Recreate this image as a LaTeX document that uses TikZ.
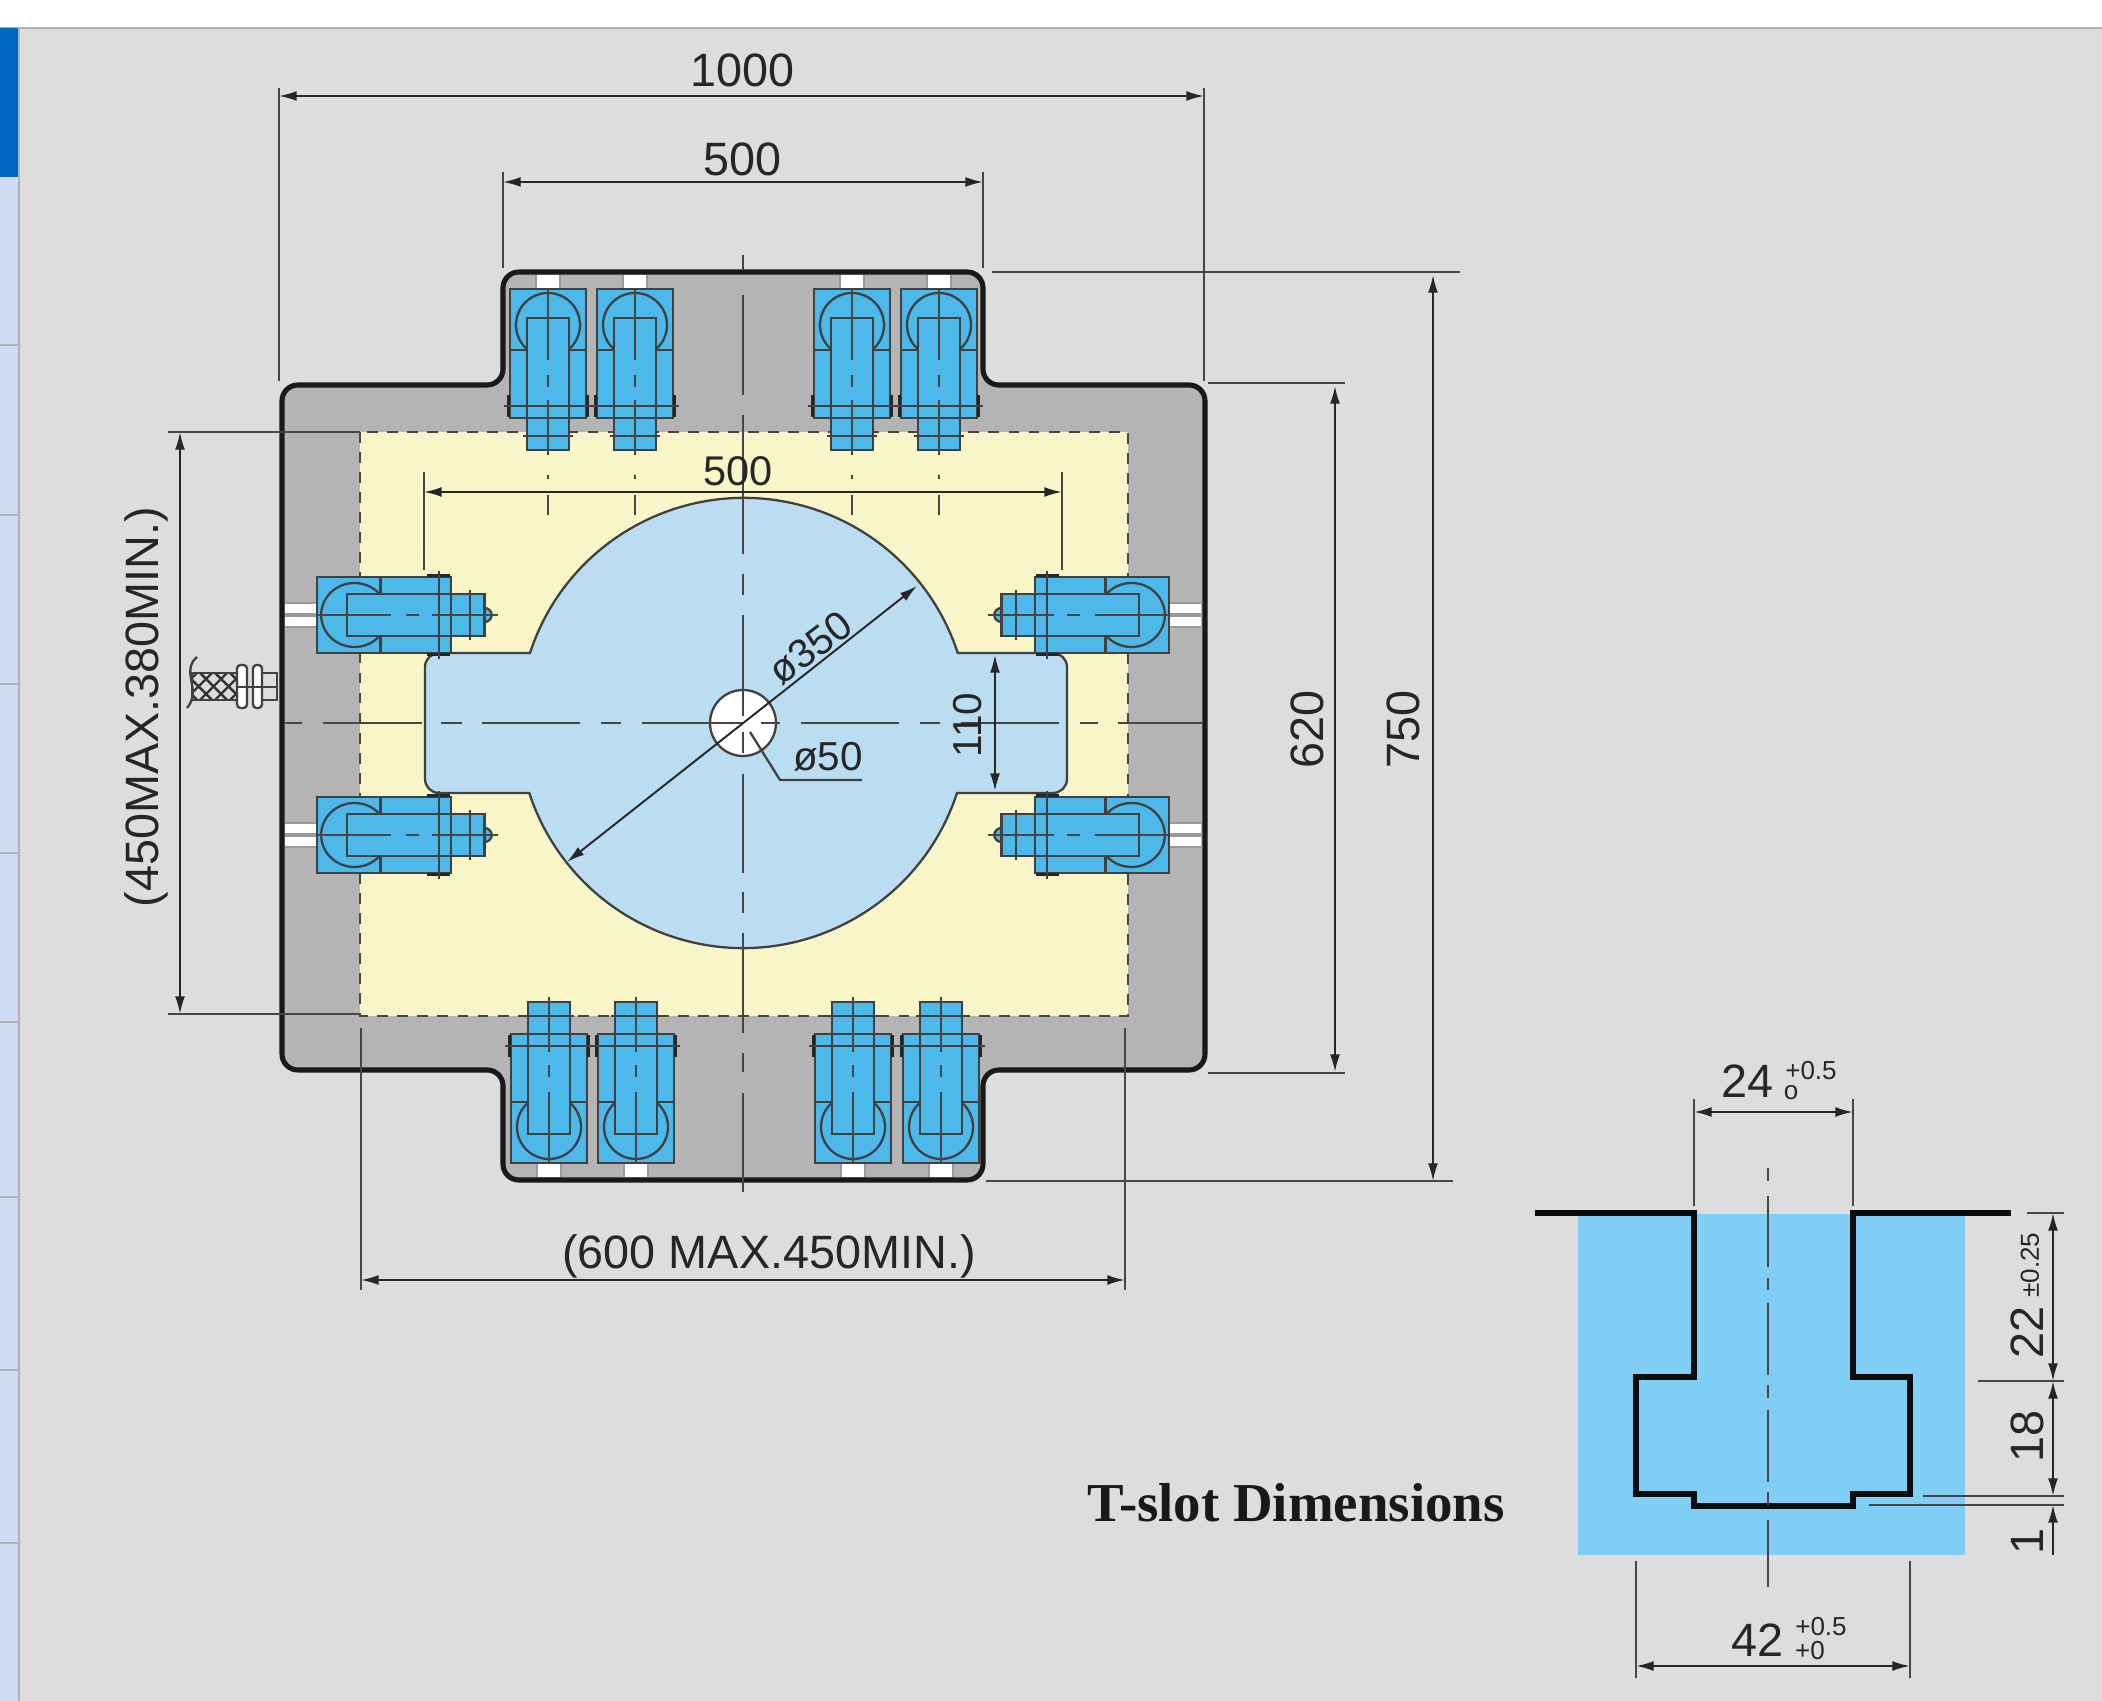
\documentclass[tikz,border=0pt]{standalone}
\usepackage{fontspec}
\setmainfont{Liberation Sans}
\newfontfamily\titlefont{Liberation Serif}
\usetikzlibrary{arrows.meta}
\definecolor{pagegray}{HTML}{DDDDDD}
\definecolor{bodygray}{HTML}{B4B4B4}
\definecolor{tableyellow}{HTML}{F8F5C9}
\definecolor{tableblue}{HTML}{BBDDF1}
\definecolor{clampblue}{HTML}{4DB9EA}
\definecolor{slotblue}{HTML}{80CEF6}
\definecolor{inkgray}{HTML}{4A4444}
\definecolor{sidedark}{HTML}{0067C0}
\definecolor{sidelight}{HTML}{CEDBF3}
\tikzset{
  dim/.style={{Latex[length=5pt,width=2.8pt]}-{Latex[length=5pt,width=2.8pt]},line width=0.55pt,color=black!85},
  dimone/.style={-{Latex[length=5pt,width=2.8pt]},line width=0.55pt,color=black!85},
  ext/.style={line width=0.65pt,draw=inkgray},
  centerline/.style={line width=0.7pt,draw=inkgray},
  thinline/.style={line width=0.65pt,draw=black!75},
  dimtext/.style={inner sep=0pt,font=\fontsize{13.3}{15}\selectfont,text=black!85},
  tol/.style={inner sep=0pt,font=\fontsize{7.4}{8}\selectfont,text=black!85},
  clampunit/.pic={
    \fill[clampblue,draw=black!75,line width=0.65pt] (-38,0) rectangle (38,129);
    \draw[thinline] (0,36) circle[radius=32];
    \draw[thinline] (-38,61) -- (38,61);
    \fill[clampblue,draw=black!75,line width=0.65pt] (-21,29) rectangle (21,161);
    \draw[line width=1.1pt,draw=black!85] (-39.5,106) -- (-39.5,128);
    \draw[line width=1.1pt,draw=black!85] (39.5,106) -- (39.5,128);
    \draw[thinline] (-38,129) -- (38,129);
    \draw[thinline] (-44,117) -- (44,117);
    \draw[thinline] (-25,147) -- (25,147);
    \draw[centerline] (0,1) -- (0,71);
    \draw[centerline] (0,86) -- (0,98);
    \draw[centerline] (0,111) -- (0,166);
  },
}
\begin{document}
\begin{tikzpicture}[x=0.01cm,y=-0.01cm]
\useasboundingbox (0,0) rectangle (2102,1701);
% page and side bar
\fill[pagegray] (0,0) rectangle (2102,1701);
\fill[white] (0,0) rectangle (2102,27);
\draw[line width=0.5pt,draw=black!30] (0,28) -- (2102,28);
\fill[sidelight] (0,28) rectangle (18,1701);
\fill[sidedark] (0,28) rectangle (18,177);
\draw[line width=0.5pt,draw=black!30] (19,28) -- (19,1701);
\foreach \y in {345,515,684,853,1022,1197,1370,1543}
  \draw[line width=0.3pt,draw=black!30] (0,\y) -- (18,\y);
% table body
\draw[fill=bodygray,line width=1.45pt,draw=black!90,rounded corners=4.5pt] (743,272) -- (983,272) -- (983,385) -- (1205,385) -- (1205,1070) -- (983,1070) -- (983,1180) -- (503,1180) -- (503,1070) -- (282,1070) -- (282,385) -- (503,385) -- (503,272) -- cycle;
\fill[tableyellow] (360,432) rectangle (1128,1016);
\draw[line width=0.7pt,draw=inkgray,dash pattern=on 3.1pt off 2.6pt] (360,432) rectangle (1128,1016);
% table centre plate
\fill[tableblue,draw=black!75,line width=0.65pt] (530,653) arc[start angle=198.1,end angle=341.9,radius=225] [rounded corners=4pt] -- (1067,653) -- (1067,793) [sharp corners] -- (957,793) arc[start angle=18.1,end angle=161.9,radius=225] [rounded corners=4pt] -- (425,793) -- (425,653) [sharp corners] -- cycle;
\draw[fill=white,thinline] (743,723) circle[radius=33];
% centre lines
\foreach \a/\b in {285/302,323/422,441/462,482/580,601/621,642/744,761/780,801/899,920/940,961/1059,1080/1098,1118/1202}
  \draw[centerline] (\a,723) -- (\b,723);
\foreach \a/\b in {255/270,295/395,415/554,574/595,615/716,732/753,774/873,892/913,933/1033,1053/1072,1093/1192}
  \draw[centerline] (743,\a) -- (743,\b);
% clamps at the top
\foreach \x in {548,635,852,939} {
  \begin{scope}[shift={(\x,289)}]
    \fill[black!40] (-13,-14) rectangle (13,0);
    \fill[white] (-11,-14) rectangle (11,0);
    \pic[transform shape] {clampunit};
  \end{scope}
  \draw[centerline] (\x,475) -- (\x,479);
  \draw[centerline] (\x,495) -- (\x,515);
}
% clamps at the bottom
\foreach \x in {549,636,853,941} {
  \begin{scope}[shift={(\x,1163)},yscale=-1]
    \fill[black!40] (-13,-14) rectangle (13,0);
    \fill[white] (-11,-14) rectangle (11,0);
    \pic[transform shape] {clampunit};
  \end{scope}
}
% clamps at the sides
\foreach \y in {615,835} {
  \begin{scope}[cm={0,-1,-1.04,0,(317,\y)}]
    \fill[black!40] (-13,-31) rectangle (13,0);
    \fill[white] (-11,-31) rectangle (-2,0);
    \fill[white] (2,-31) rectangle (11,0);
    \draw[fill=clampblue,thinline] (0,161) circle[radius=7];
    \pic[transform shape] {clampunit};
    \draw[centerline] (0,166) -- (0,174);
  \end{scope}
  \begin{scope}[cm={0,-1,1.04,0,(1169,\y)}]
    \fill[black!40] (-13,-31) rectangle (13,0);
    \fill[white] (-11,-31) rectangle (-2,0);
    \fill[white] (2,-31) rectangle (11,0);
    \draw[fill=clampblue,thinline] (0,161) circle[radius=7];
    \pic[transform shape] {clampunit};
    \draw[centerline] (0,166) -- (0,174);
  \end{scope}
}
% clamp screw
\begin{scope}
  \clip (192,673) rectangle (237,700);
  \foreach \x in {170,185,200,215,230} {
    \draw[line width=0.7pt,draw=black!80] (\x,673) -- (\x+27,700);
    \draw[line width=0.7pt,draw=black!80] (\x,700) -- (\x+27,673);
  }
\end{scope}
\draw[thinline] (192,673) rectangle (237,700);
\draw[thinline] (197,657) .. controls (188,664) and (190,675) .. (192,684) .. controls (194,695) and (192,702) .. (187,708);
\draw[thinline,fill=pagegray] (262,673) rectangle (277,700);
\draw[thinline,fill=white,rounded corners=1pt] (237,665) rectangle (247,708);
\draw[thinline,fill=white,rounded corners=1pt] (253,665) rectangle (262,708);
\draw[thinline] (237,687) -- (277,687);
% dimensions of the table
\coordinate (wl) at (279,96);
\coordinate (wr) at (1204,96);
\draw[ext] (279,88) -- (279,381);
\draw[ext] (1204,88) -- (1204,381);
\draw[dim] (wl) -- (wr);
\node[dimtext] (wlabel) at (743,70) {1000};
\coordinate (al) at (503,182);
\coordinate (ar) at (983,182);
\draw[ext] (503,172) -- (503,268);
\draw[ext] (983,172) -- (983,268);
\draw[dim] (al) -- (ar);
\node[dimtext] (alabel) at (743,159) {500};
\coordinate (il) at (424,492);
\coordinate (ir) at (1062,492);
\draw[ext] (424,472) -- (424,570);
\draw[ext] (1062,472) -- (1062,570);
\draw[dim] (il) -- (ir);
\node[dimtext,font=\fontsize{11.8}{14}\selectfont] (ilabel) at (738,471) {500};
\coordinate (ht) at (1433,275);
\coordinate (hb) at (1433,1181);
\draw[ext] (992,272) -- (1460,272);
\draw[ext] (986,1181) -- (1453,1181);
\draw[dim] (ht) -- (hb);
\node[dimtext,rotate=90] (hlabel) at (1403,729) {750};
\coordinate (bt) at (1335,386);
\coordinate (bb) at (1335,1072);
\draw[ext] (1208,383) -- (1345,383);
\draw[ext] (1208,1073) -- (1345,1073);
\draw[dim] (bt) -- (bb);
\node[dimtext,rotate=90] (blabel) at (1307,729) {620};
\coordinate (st) at (180,432);
\coordinate (sb) at (180,1014);
\draw[ext] (168,432) -- (360,432);
\draw[ext] (168,1014) -- (360,1014);
\draw[dim] (st) -- (sb);
\node[dimtext,rotate=90] (slabel) at (146,707) {(450MAX.380MIN.)};
\coordinate (ml) at (361,1280);
\coordinate (mr) at (1125,1280);
\draw[ext] (361,1028) -- (361,1290);
\draw[ext] (1125,1028) -- (1125,1290);
\draw[dim] (ml) -- (mr);
\node[dimtext] (mlabel) at (769,1256) {(600 MAX.450MIN.)};
\coordinate (dl) at (567,862);
\coordinate (dr) at (917,586);
\draw[dim] (dl) -- (dr);
\node[dimtext,rotate=37,font=\fontsize{11.5}{14}\selectfont] (dlabel) at (810,648) {ø350};
\coordinate (nt) at (995,655);
\coordinate (nb) at (995,791);
\draw[dim] (nt) -- (nb);
\node[dimtext,rotate=90,font=\fontsize{11.5}{14}\selectfont] (nlabel) at (968,725) {110};
\coordinate (ha) at (750,732);
\coordinate (hc) at (780,780);
\coordinate (hd) at (862,780);
\draw[thinline] (ha) -- (hc) -- (hd);
\node[dimtext,font=\fontsize{11.5}{14}\selectfont] (hlabelb) at (828,757) {ø50};
% T-slot
\fill[slotblue] (1578,1214) rectangle (1965,1555);
\draw[line width=1.5pt,draw=black!95] (1535,1213) -- (1694,1213) -- (1694,1377) -- (1636,1377) -- (1636,1494) -- (1694,1494) -- (1694,1506) -- (1853,1506) -- (1853,1494) -- (1910,1494) -- (1910,1377) -- (1853,1377) -- (1853,1213) -- (2011,1213);
\foreach \a/\b in {1168/1181,1196/1267,1278/1290,1303/1375,1385/1398,1410/1482,1492/1505,1520/1587}
  \draw[centerline] (1768,\a) -- (1768,\b);
\coordinate (tl) at (1694,1112);
\coordinate (tr) at (1853,1112);
\draw[ext] (1694,1099) -- (1694,1206);
\draw[ext] (1853,1099) -- (1853,1206);
\draw[dim] (tl) -- (tr);
\node[dimtext] (tlabel) at (1747,1081) {24};
\node[tol] (ttolup) at (1811,1071) {+0.5};
\node[tol] (ttoldown) at (1791,1093) {o};
\coordinate (fl) at (1636,1666);
\coordinate (fr) at (1910,1666);
\draw[ext] (1636,1561) -- (1636,1678);
\draw[ext] (1910,1561) -- (1910,1678);
\draw[dim] (fl) -- (fr);
\node[dimtext] (flabel) at (1757,1640) {42};
\node[tol] (ftolup) at (1821,1627) {+0.5};
\node[tol] (ftoldown) at (1810,1651) {+0};
\coordinate (ra) at (2053,1213);
\coordinate (rb) at (2053,1381);
\coordinate (rc) at (2053,1496);
\coordinate (rd) at (2053,1505);
\coordinate (re) at (2053,1555);
\draw[ext] (2027,1213) -- (2064,1213);
\draw[ext] (1978,1381) -- (2064,1381);
\draw[ext] (1923,1496) -- (2064,1496);
\draw[ext] (1869,1505) -- (2064,1505);
\draw[dim] (ra) -- (rb);
\draw[dim] (rb) -- (rc);
\draw[dimone] (re) -- (rd);
\node[dimtext,rotate=90] (rlabelx) at (2027,1332) {22};
\node[tol,rotate=90] (rtol) at (2030,1265) {±0.25};
\node[dimtext,rotate=90] (rlabely) at (2027,1436) {18};
\node[dimtext,rotate=90] (rlabelz) at (2027,1541) {1};
\node[inner sep=0pt,font=\titlefont\bfseries\fontsize{15.6}{18}\selectfont,text=black!90] (title) at (1296,1503) {T-slot Dimensions};
\end{tikzpicture}
\end{document}
